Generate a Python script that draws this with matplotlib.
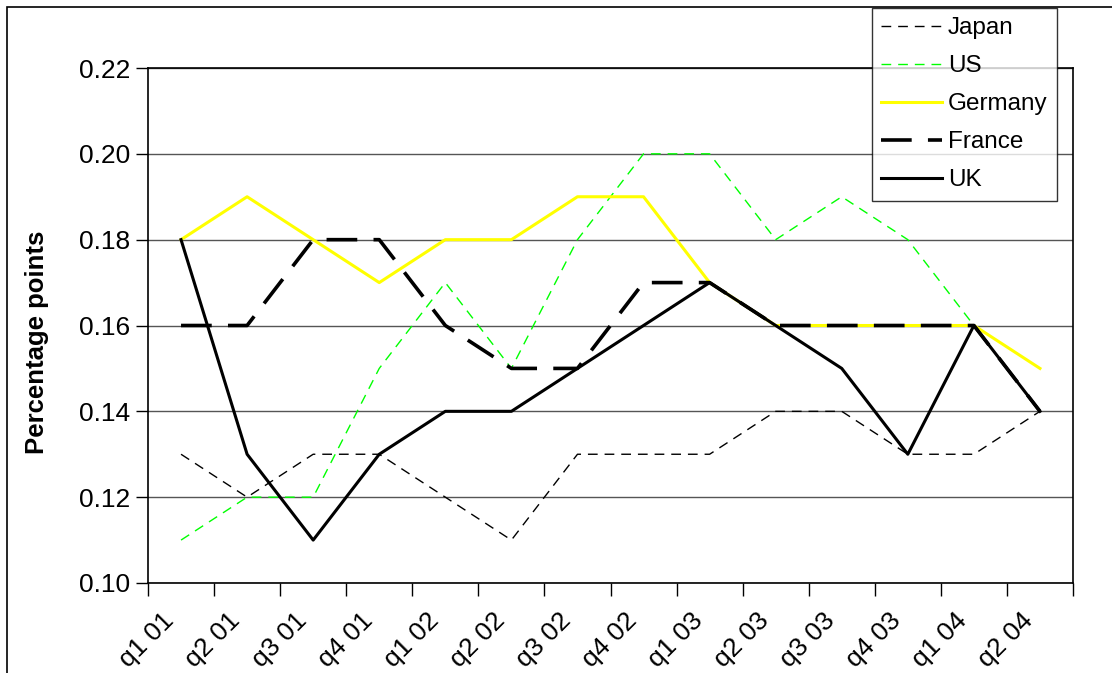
import numpy as np
import matplotlib.pyplot as plt
from matplotlib.transforms import ScaledTranslation
from matplotlib.patches import Rectangle

plt.rcParams['font.family'] = ['Liberation Sans', 'DejaVu Sans']

quarters = ["q1 01", "q2 01", "q3 01", "q4 01", "q1 02", "q2 02", "q3 02",
            "q4 02", "q1 03", "q2 03", "q3 03", "q4 03", "q1 04", "q2 04"]

japan = [0.13, 0.12, 0.13, 0.13, 0.12, 0.11, 0.13, 0.13, 0.13, 0.14, 0.14, 0.13, 0.13, 0.14]
us = [0.11, 0.12, 0.12, 0.15, 0.17, 0.15, 0.18, 0.20, 0.20, 0.18, 0.19, 0.18, 0.16, 0.14]
germany = [0.18, 0.19, 0.18, 0.17, 0.18, 0.18, 0.19, 0.19, 0.17, 0.16, 0.16, 0.16, 0.16, 0.15]
france = [0.16, 0.16, 0.18, 0.18, 0.16, 0.15, 0.15, 0.17, 0.17, 0.16, 0.16, 0.16, 0.16, 0.14]
uk = [0.18, 0.13, 0.11, 0.13, 0.14, 0.14, 0.15, 0.16, 0.17, 0.16, 0.15, 0.13, 0.16, 0.14]

W, H = 1112, 673
fs = 19
fig = plt.figure(figsize=(W / 100, H / 100), dpi=100)
# plot area in pixels: x 148..1073, y 68..583
ax = fig.add_axes([148 / W, 1 - 583 / H, (1073 - 148) / W, (583 - 68) / H])

x = np.arange(len(quarters))
ax.plot(x, japan, color="black", lw=1.0, ls=(0, (7, 5)), label="Japan")
ax.plot(x, us, color="#00ff00", lw=1.0, ls=(0, (7, 5)), label="US")
ax.plot(x, germany, color="#ffff00", lw=2.2, label="Germany")
ax.plot(x, france, color="black", lw=2.6, ls=(0, (8.5, 4.5)), label="France")
ax.plot(x, uk, color="black", lw=2.2, label="UK")

ax.set_xlim(-0.5, len(quarters) - 0.5)
ax.set_ylim(0.10, 0.22)
yt = np.arange(0.10, 0.2201, 0.02)
ax.set_yticks(yt)
ax.set_yticklabels([f"{v:.2f}" for v in yt])
ax.yaxis.grid(True, color="#555555", lw=1.0)
ax.set_axisbelow(True)

ax.set_xticks(x)
ax.set_xticklabels(quarters, rotation=45, ha="right", va="top", rotation_mode="anchor")
ax.set_xticks(np.arange(len(quarters) + 1) - 0.5, minor=True)
ax.tick_params(axis="x", which="major", length=0, pad=18, labelsize=fs)
ax.tick_params(axis="x", which="minor", length=9, width=1, color="black")
ax.tick_params(axis="y", length=9, width=1, labelsize=fs, pad=4)
for lab in ax.get_xticklabels():
    lab.set_transform(lab.get_transform() + ScaledTranslation(-0.19, 0, fig.dpi_scale_trans))

for s in ax.spines.values():
    s.set_color("black")
    s.set_linewidth(1.2)

fig.text(37 / W, 1 - 342 / H, "Percentage points", rotation=90, fontsize=18.5,
         fontweight="bold", ha="center", va="center")

leg = ax.legend(loc="upper left", bbox_to_anchor=(872 / W, 1 - 8 / H),
                bbox_transform=fig.transFigure, fontsize=17.5, frameon=True,
                fancybox=False, edgecolor="black", handlelength=2.5, handletextpad=0.25,
                labelspacing=0.66, borderaxespad=0, borderpad=0.38)
leg.get_frame().set_linewidth(1.0)
leg.set_zorder(5)

# outer chart border
fig.patches.append(Rectangle((7 / W, -0.1), 1.2, 1 - 7 / H + 0.1, transform=fig.transFigure,
                             fill=False, edgecolor="black", lw=1.2))

fig.savefig("out.png", dpi=100)
